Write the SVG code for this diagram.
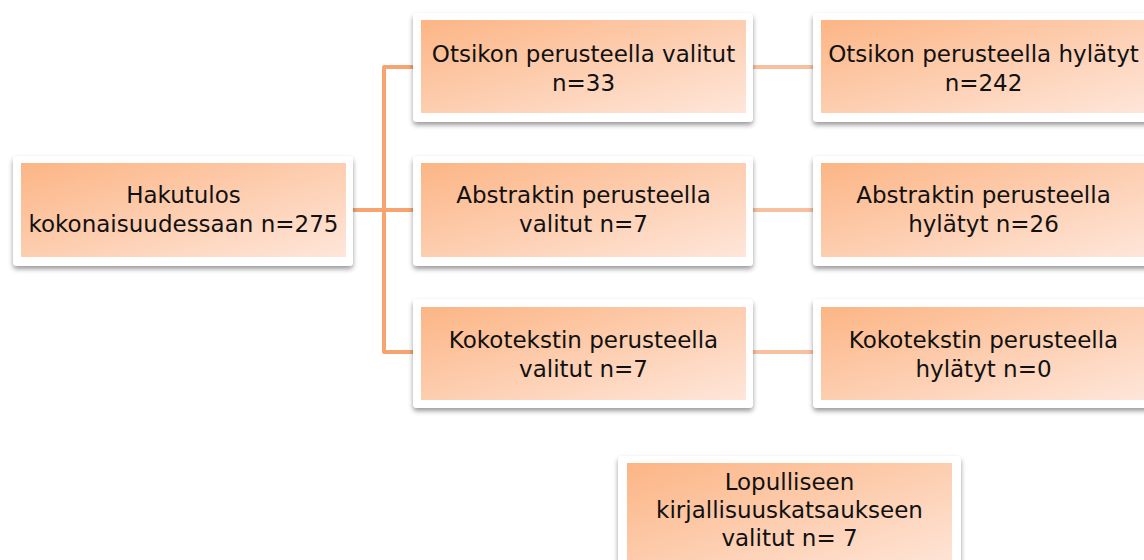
<svg xmlns="http://www.w3.org/2000/svg" width="1144" height="560" viewBox="0 0 1144 560">
  <defs>
    <linearGradient id="fillGrad" x1="0" y1="0" x2="1" y2="1">
      <stop offset="0" stop-color="#FCB585"/>
      <stop offset="1" stop-color="#FEE6DA"/>
    </linearGradient>
    <filter id="shadow" x="-10%" y="-10%" width="120%" height="130%">
      <feDropShadow dx="0" dy="3" stdDeviation="2.5" flood-color="#000" flood-opacity="0.4"/>
    </filter>
    <style>
      .frame { fill: #FFFFFF; filter: url(#shadow); }
      .inner { fill: url(#fillGrad); }
      .label { font-family: "DejaVu Sans", Verdana, sans-serif; font-size: 23px; fill: #111; text-anchor: middle; }
      .trunk { fill: none; stroke: #F7A470; stroke-width: 4; stroke-linejoin: round; }
      .branch { fill: none; stroke: #F9C0A0; stroke-width: 4; }
    </style>
  </defs>

  <rect width="1144" height="560" fill="#FFFFFF"/>

  <g id="connectors">
    <path class="trunk" d="M353 210 H384"/>
    <path class="trunk" d="M413 67 H384 V352 H413"/>
    <path class="trunk" d="M384 210 H413"/>
    <path class="branch" d="M753 67 H813"/>
    <path class="branch" d="M753 210 H813"/>
    <path class="branch" d="M753 352 H813"/>
  </g>

  <g id="node-haku">
    <rect class="frame" x="13" y="156" width="340" height="110" rx="4"/>
    <rect class="inner" x="21" y="163" width="325" height="94"/>
    <text class="label" x="183.5" y="203">Hakutulos</text>
    <text class="label" x="183.5" y="232">kokonaisuudessaan n=275</text>
  </g>

  <g id="node-otsikko-valitut">
    <rect class="frame" x="413" y="13" width="340" height="109" rx="4"/>
    <rect class="inner" x="421" y="20" width="325" height="93"/>
    <text class="label" x="583.5" y="62">Otsikon perusteella valitut</text>
    <text class="label" x="583.5" y="91">n=33</text>
  </g>

  <g id="node-otsikko-hylatyt">
    <rect class="frame" x="813" y="13" width="340" height="109" rx="4"/>
    <rect class="inner" x="821" y="20" width="325" height="93"/>
    <text class="label" x="983.5" y="62">Otsikon perusteella hylätyt</text>
    <text class="label" x="983.5" y="91">n=242</text>
  </g>

  <g id="node-abstrakti-valitut">
    <rect class="frame" x="413" y="156" width="340" height="110" rx="4"/>
    <rect class="inner" x="421" y="163" width="325" height="94"/>
    <text class="label" x="583.5" y="203">Abstraktin perusteella</text>
    <text class="label" x="583.5" y="232">valitut n=7</text>
  </g>

  <g id="node-abstrakti-hylatyt">
    <rect class="frame" x="813" y="156" width="340" height="110" rx="4"/>
    <rect class="inner" x="821" y="163" width="325" height="94"/>
    <text class="label" x="983.5" y="203">Abstraktin perusteella</text>
    <text class="label" x="983.5" y="232">hylätyt n=26</text>
  </g>

  <g id="node-kokoteksti-valitut">
    <rect class="frame" x="413" y="299" width="340" height="109" rx="4"/>
    <rect class="inner" x="421" y="307" width="325" height="93"/>
    <text class="label" x="583.5" y="348">Kokotekstin perusteella</text>
    <text class="label" x="583.5" y="377">valitut n=7</text>
  </g>

  <g id="node-kokoteksti-hylatyt">
    <rect class="frame" x="813" y="299" width="340" height="109" rx="4"/>
    <rect class="inner" x="821" y="307" width="325" height="93"/>
    <text class="label" x="983.5" y="348">Kokotekstin perusteella</text>
    <text class="label" x="983.5" y="377">hylätyt n=0</text>
  </g>

  <g id="node-lopullinen">
    <rect class="frame" x="618" y="456" width="343" height="120" rx="4"/>
    <rect class="inner" x="627" y="463" width="325" height="110"/>
    <text class="label" x="789.5" y="490">Lopulliseen</text>
    <text class="label" x="789.5" y="518">kirjallisuuskatsaukseen</text>
    <text class="label" x="789.5" y="546">valitut n= 7</text>
  </g>
</svg>
